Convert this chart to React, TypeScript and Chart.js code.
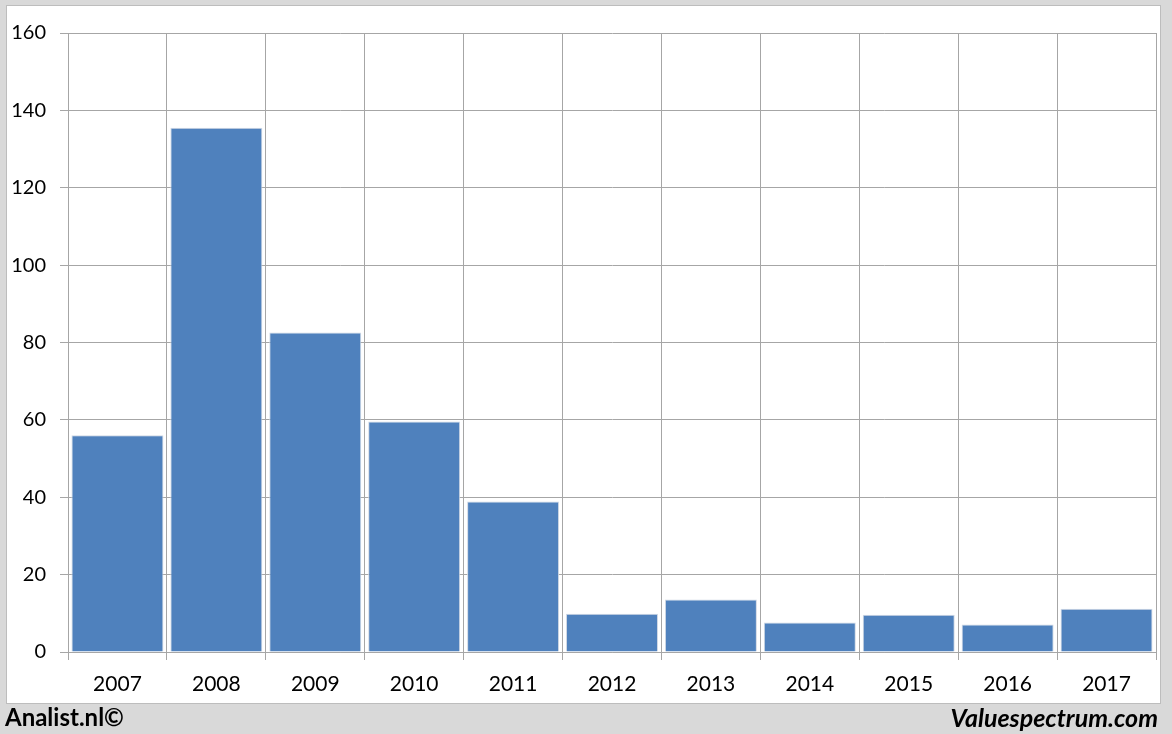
import React, { useEffect, useRef } from "react";
import { Chart, registerables } from "chart.js";

Chart.register(...registerables);

const categories = ["2007", "2008", "2009", "2010", "2011", "2012", "2013", "2014", "2015", "2016", "2017"];
const values = [56, 135.5, 82.6, 59.6, 38.9, 9.9, 13.6, 7.6, 9.6, 7.1, 11.2];
const yTicks = [0, 20, 40, 60, 80, 100, 120, 140, 160];

const FONT = "Lato, 'Open Sans', sans-serif";

export default function App() {
  const ref = useRef<HTMLCanvasElement | null>(null);

  useEffect(() => {
    document.body.style.margin = "0";
    const ctx = ref.current!;
    const chart = new Chart(ctx, {
      type: "bar",
      data: {
        labels: categories,
        datasets: [
          {
            data: values,
            backgroundColor: "#4f81bd",
            borderColor: "#d0d8e4",
            borderWidth: 1,
            categoryPercentage: 1,
            barPercentage: 0.93,
          },
        ],
      },
      options: {
        responsive: false,
        animation: false,
        layout: { padding: { left: 0, top: 33, right: 16, bottom: 32 } },
        plugins: { legend: { display: false }, tooltip: { enabled: false } },
        scales: {
          x: {
            grid: { color: "#a6a6a6", lineWidth: 1, tickLength: 8, offset: true },
            border: { color: "#a6a6a6" },
            ticks: { color: "#000", font: { family: FONT, size: 21 }, padding: 12, maxRotation: 0 },
            afterFit: (s: any) => {
              s.height = 50;
            },
          },
          y: {
            min: 0,
            max: 160,
            afterBuildTicks: (s: any) => {
              s.ticks = yTicks.map((v) => ({ value: v }));
            },
            grid: { color: "#a6a6a6", lineWidth: 1, tickLength: 8 },
            border: { color: "#a6a6a6" },
            ticks: { color: "#000", font: { family: FONT, size: 20 }, padding: 14 },
            afterFit: (s: any) => {
              s.width = 68;
            },
          },
        },
      },
    });
    return () => chart.destroy();
  }, []);

  return (
    <div style={{ position: "absolute", left: 0, top: 0, width: 1172, height: 734, background: "#d9d9d9", overflow: "hidden" }}>
      <div
        style={{
          position: "absolute",
          left: 6,
          top: 5,
          width: 1153,
          height: 697,
          background: "#fff",
          border: "1px solid #bdbdbd",
        }}
      />
      <canvas ref={ref} width={1172} height={734} style={{ position: "absolute", left: 0, top: 0 }} />
      <div
        style={{
          position: "absolute",
          left: 5,
          top: 702,
          fontFamily: FONT,
          fontWeight: 700,
          fontSize: 24,
          color: "#000",
          lineHeight: "30px",
        }}
      >
        Analist.nl©
      </div>
      <div
        style={{
          position: "absolute",
          right: 14,
          top: 702,
          fontFamily: FONT,
          fontWeight: 700,
          fontStyle: "italic",
          fontSize: 25,
          color: "#000",
          lineHeight: "30px",
        }}
      >
        Valuespectrum.com
      </div>
    </div>
  );
}
